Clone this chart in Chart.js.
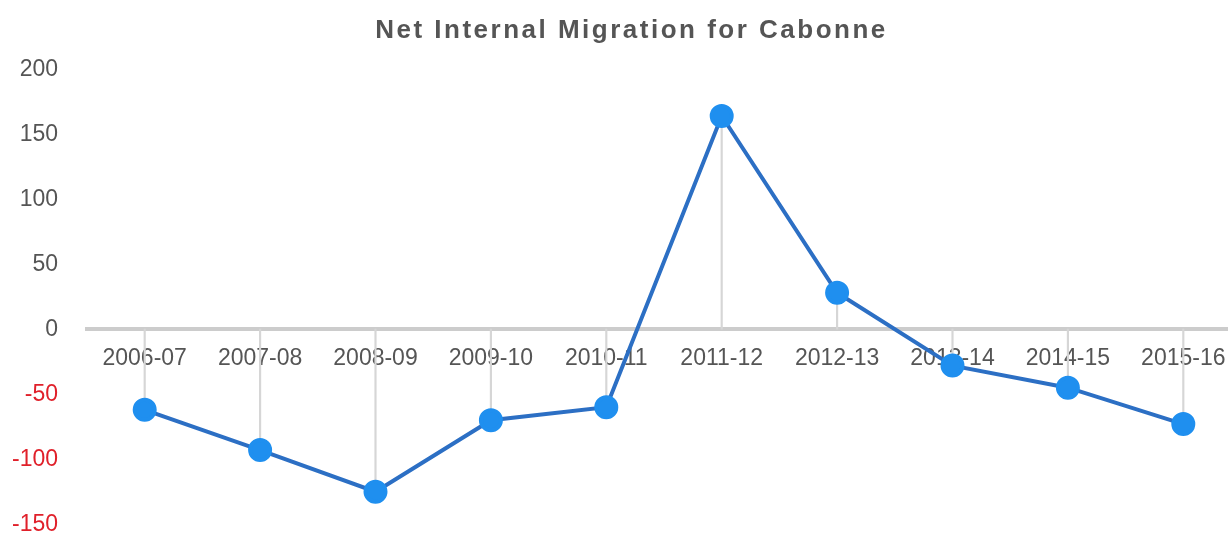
<!DOCTYPE html>
<html>
<head>
<meta charset="utf-8">
<script src="https://cdn.jsdelivr.net/npm/chart.js@4/dist/chart.umd.min.js"></script>
<style>
  html, body { margin: 0; padding: 0; background: #fff; overflow: hidden; }
  #wrap { width: 1228px; height: 535px; overflow: hidden; }
  canvas { display: block; }
</style>
</head>
<body>
<div id="wrap"><canvas id="c" width="1284" height="567"></canvas></div>
<script>
const categories = ["2006-07","2007-08","2008-09","2009-10","2010-11","2011-12","2012-13","2013-14","2014-15","2015-16"];
const netMigration = [-62, -93, -125, -70, -60, 164, 28, -28, -45, -73];
const yTickMin = -150;
const yTickMax = 200;
const yTickStep = 50;
const chartTitle = "Net Internal Migration for Cabonne";

const FONT = "'Liberation Sans', Arial, sans-serif";

const titleSpacing = {
  id: 'titleSpacing',
  afterInit(chart) {
    const tb = chart.titleBlock;
    if (!tb) return;
    const orig = tb.draw.bind(tb);
    tb.draw = function () {
      const c = chart.ctx;
      c.save();
      c.translate(11, 0);
      try { c.letterSpacing = '2.5px'; } catch (e) {}
      orig();
      c.restore();
      try { c.letterSpacing = '0px'; } catch (e) {}
    };
  }
};

new Chart(document.getElementById('c'), {
  data: {
    labels: categories,
    datasets: [
      {
        type: 'line',
        data: netMigration,
        borderColor: '#2c6fc4',
        borderWidth: 4,
        pointBackgroundColor: '#1f8fef',
        pointBorderColor: '#1f8fef',
        pointRadius: 10,
        pointHoverRadius: 10,
        tension: 0,
        order: 0
      },
      {
        type: 'bar',
        data: netMigration,
        backgroundColor: '#d6d6d6',
        barThickness: 1.5,
        order: 1
      }
    ]
  },
  plugins: [titleSpacing],
  options: {
    responsive: false,
    animation: false,
    layout: { padding: { left: 0, right: 43, top: 0, bottom: 11 } },
    plugins: {
      legend: { display: false },
      tooltip: { enabled: false },
      title: {
        display: true,
        text: chartTitle,
        color: '#555',
        font: { family: FONT, size: 26, weight: 'bold' },
        padding: { top: 15, bottom: 23 }
      }
    },
    scales: {
      x: {
        type: 'category',
        offset: true,
        position: { y: 0 },
        grid: { display: false, drawTicks: false },
        border: { display: true, color: '#cccccc', width: 4 },
        ticks: {
          color: '#555',
          font: { family: FONT, size: 23 },
          padding: 16,
          maxRotation: 0,
          autoSkip: false
        },
        afterFit: (s) => { s.height = 0; }
      },
      y: {
        min: yTickMin,
        max: yTickMax,
        grid: { display: false, drawTicks: false },
        border: { display: false },
        ticks: {
          stepSize: yTickStep,
          padding: 29,
          font: { family: FONT, size: 23 },
          color: (ctx) => (ctx.tick && ctx.tick.value < 0) ? '#e0202a' : '#555'
        },
        afterFit: (s) => { s.width = 87; }
      }
    }
  }
});
</script>
</body>
</html>
